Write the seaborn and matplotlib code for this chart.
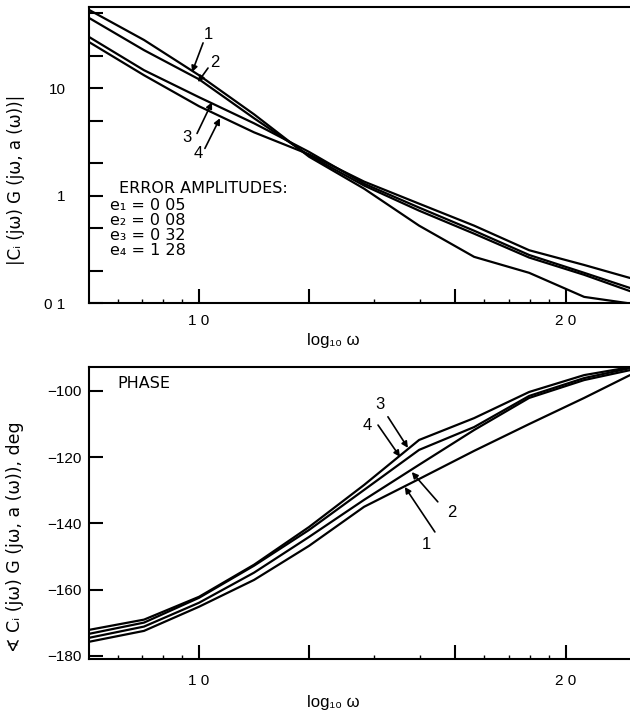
import matplotlib
matplotlib.use('Agg')
import matplotlib.pyplot as plt
import seaborn as sns
import numpy as np
import pandas as pd
from matplotlib.ticker import FixedLocator, NullFormatter

# log10(omega) sample points shared by all curves
log_w = [0.70, 0.85, 1.00, 1.15, 1.30, 1.45, 1.60, 1.75, 1.90, 2.05, 2.175]

# |Ci(jw) G(jw, a(w))| for the four error amplitudes
mag_1 = [53.6, 28.1, 13.2, 5.71, 2.30, 1.16, 0.525, 0.269, 0.191, 0.114, 0.099]
mag_2 = [45.1, 22.6, 12.1, 5.25, 2.36, 1.24, 0.724, 0.442, 0.265, 0.183, 0.129]
mag_3 = [30.0, 14.7, 8.24, 4.71, 2.55, 1.29, 0.773, 0.471, 0.28, 0.191, 0.138]
mag_4 = [26.9, 13.2, 6.79, 3.88, 2.42, 1.35, 0.841, 0.525, 0.31, 0.226, 0.171]

# phase, deg
ph_1 = [-175.8, -172.5, -165.2, -157.1, -146.8, -135.0, -126.6, -118.1, -110.0, -102.1, -95.2]
ph_2 = [-174.6, -171.2, -164.0, -154.9, -144.1, -132.9, -122.3, -111.8, -102.1, -96.7, -93.7]
ph_3 = [-172.2, -169.1, -162.2, -152.5, -141.1, -128.4, -114.8, -108.2, -100.3, -95.2, -92.8]
ph_4 = [-173.4, -170.0, -162.5, -152.8, -142.0, -129.9, -117.8, -110.9, -101.5, -96.1, -93.1]

curves = ['1', '2', '3', '4']
error_lines = ['e\u2081 = 0 05', 'e\u2082 = 0 08', 'e\u2083 = 0 32', 'e\u2084 = 1 28']

# arrow labels: (label pos, arrow tail, arrow head) in data coords
mag_arrows = {
    '1': ((1.0245, 31.3), (1.011, 26.4), (0.981, 14.1)),
    '2': ((1.0436, 17.5), (1.0245, 15.4), (0.997, 11.4)),
    '3': ((0.967, 3.48), (0.9946, 3.79), (1.0354, 7.4)),
    '4': ((0.997, 2.47), (1.016, 2.75), (1.057, 5.25)),
}
ph_arrows = {
    '3': ((1.493, -104.2), (1.515, -107.8), (1.5695, -117.2)),
    '4': ((1.458, -110.3), (1.488, -110.3), (1.548, -119.9)),
    '2': ((1.689, -136.8), (1.651, -133.5), (1.580, -124.5)),
    '1': ((1.621, -146.5), (1.643, -142.6), (1.561, -129.0)),
}

sns.set_style('ticks', {'axes.edgecolor': 'black', 'text.color': 'black',
                        'axes.labelcolor': 'black', 'xtick.color': 'black',
                        'ytick.color': 'black'})
plt.rcParams['font.family'] = ['Liberation Sans', 'DejaVu Sans']
plt.rcParams['font.size'] = 11
plt.rcParams['axes.linewidth'] = 1.5
wide = ['DejaVu Sans']

mag_df = pd.DataFrame({
    'log_w': log_w * 4,
    'value': mag_1 + mag_2 + mag_3 + mag_4,
    'curve': np.repeat(curves, len(log_w)),
})
ph_df = pd.DataFrame({
    'log_w': log_w * 4,
    'value': ph_1 + ph_2 + ph_3 + ph_4,
    'curve': np.repeat(curves, len(log_w)),
})
pal = {c: 'black' for c in curves}

fig = plt.figure(figsize=(6.3, 7.25), dpi=100)
ax1 = fig.add_axes([89 / 630, 1 - 303 / 725, 541 / 630, 296 / 725])
ax2 = fig.add_axes([89 / 630, 1 - 659 / 725, 541 / 630, 292 / 725])

sns.lineplot(data=mag_df, x='log_w', y='value', hue='curve', palette=pal,
             estimator=None, legend=False, lw=1.6, ax=ax1)
sns.lineplot(data=ph_df, x='log_w', y='value', hue='curve', palette=pal,
             estimator=None, legend=False, lw=1.6, ax=ax2)

ax1.set_yscale('log')
ax1.set_ylim(0.1, 57)
ax2.set_ylim(-181, -92.75)

xmaj = [1.0, np.log10(20), np.log10(50), 2.0]
xmin = list(np.log10([6, 7, 8, 9, 30, 40, 60, 70, 80, 90]))
for ax in (ax1, ax2):
    ax.set_xlim(0.70, 2.175)
    ax.spines['right'].set_visible(False)
    ax.xaxis.set_major_locator(FixedLocator(xmaj))
    ax.set_xticklabels(['1 0', '', '', '2 0'])
    ax.xaxis.set_minor_locator(FixedLocator(xmin))
    ax.xaxis.set_minor_formatter(NullFormatter())
    ax.tick_params(axis='both', which='major', direction='in', length=10, width=1.5,
                   labelsize=11, colors='black')
    ax.tick_params(axis='x', which='minor', direction='in', length=3, width=1)
    ax.set_xlabel('log\u2081\u2080 \u03c9', fontsize=12)
    ax.set_ylabel('')

ax1.yaxis.set_major_locator(FixedLocator([0.1, 1, 10]))
ax1.set_yticklabels(['0 1', '1', '10'])
ax1.yaxis.set_minor_locator(FixedLocator([0.2, 0.5, 2, 5, 20, 50]))
ax1.yaxis.set_minor_formatter(NullFormatter())
ax1.tick_params(axis='y', which='minor', direction='in', length=10, width=1.5)
ax1.tick_params(axis='y', which='major', pad=17)
ax1.tick_params(axis='x', which='major', pad=8)

ax2.set_yticks([-180, -160, -140, -120, -100])
ax2.tick_params(axis='y', which='major', pad=5)
ax2.tick_params(axis='x', which='major', pad=11)

ax1.xaxis.set_label_coords(0.451, -0.101)
ax2.xaxis.set_label_coords(0.451, -0.125)

ax1.set_ylabel('|C\u1d62 (j\u03c9) G (j\u03c9, a (\u03c9))|', fontsize=12, family=wide)
ax1.yaxis.set_label_coords(-0.118, 0.416)
ax2.set_ylabel('\u2222 C\u1d62 (j\u03c9) G (j\u03c9, a (\u03c9)), deg', fontsize=12.5, family=wide)
ax2.yaxis.set_label_coords(-0.120, 0.418)

# error amplitude block
ax1.text(0.055, 0.387, 'ERROR AMPLITUDES:', transform=ax1.transAxes, va='center',
         fontsize=11.5, family=wide)
ax1.text(0.039, 0.355, '\n'.join(error_lines), transform=ax1.transAxes, va='top',
         fontsize=11.5, family=wide, linespacing=1.0)

ax2.text(0.052, 0.945, 'PHASE', transform=ax2.transAxes, va='center',
         fontsize=11.5, family=wide)

arrow_style = dict(arrowstyle='-|>', color='black', lw=1.2, mutation_scale=9,
                   shrinkA=0, shrinkB=0)
for ax, arrows in ((ax1, mag_arrows), (ax2, ph_arrows)):
    for name, (lab, tail, head) in arrows.items():
        ax.text(lab[0], lab[1], name, ha='center', va='center', fontsize=12)
        ax.annotate('', xy=head, xytext=tail, arrowprops=arrow_style)

fig.savefig('out.png', dpi=100)
